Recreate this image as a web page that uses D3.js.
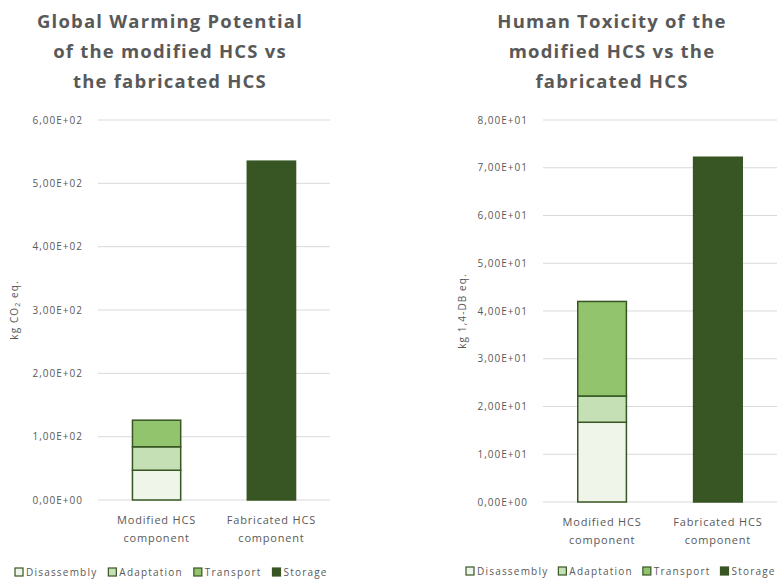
<!DOCTYPE html>
<html><head><meta charset="utf-8">
<script src="https://cdn.jsdelivr.net/npm/d3@7"></script>
<style>
body{margin:0;background:#fff;}
svg text{font-family:"Open Sans",sans-serif;fill:#595959;}
</style></head>
<body><svg id="c" width="777" height="580"></svg>
<script>
const categories = ["Modified HCS component", "Fabricated HCS component"];
const seriesNames = ["Disassembly", "Adaptation", "Transport", "Storage"];
// Global Warming Potential (kg CO2 eq.)
const gwpDisassembly = [47, 0];
const gwpAdaptation = [37, 0];
const gwpTransport = [42, 0];
const gwpStorage = [0, 535];
const gwpTicks = [0, 100, 200, 300, 400, 500, 600];
const gwpTickLabels = ["0,00E+00","1,00E+02","2,00E+02","3,00E+02","4,00E+02","5,00E+02","6,00E+02"];
// Human Toxicity (kg 1,4-DB eq.)
const htDisassembly = [16.7, 0];
const htAdaptation = [5.5, 0];
const htTransport = [19.8, 0];
const htStorage = [0, 72.2];
const htTicks = [0, 10, 20, 30, 40, 50, 60, 70, 80];
const htTickLabels = ["0,00E+00","1,00E+01","2,00E+01","3,00E+01","4,00E+01","5,00E+01","6,00E+01","7,00E+01","8,00E+01"];

const colors = ["#f0f5ea", "#c5e0b4", "#92c46e", "#375623"];
const strokeCol = "#375623";
const svg = d3.select("#c");

function drawChart(o) {
  const g = svg.append("g");
  const y = d3.scaleLinear().domain([0, o.ticks[o.ticks.length-1]]).range([o.bottom, o.top]);
  const x = d3.scaleBand().domain(categories).range([o.left, o.right]).paddingInner(0.58).paddingOuter(0.3);
  // gridlines
  g.selectAll("line.grid").data(o.ticks).enter().append("line")
    .attr("x1", o.left).attr("x2", o.right)
    .attr("y1", d => y(d)).attr("y2", d => y(d))
    .attr("stroke", "#d9d9d9").attr("stroke-width", 1);
  // tick labels
  g.selectAll("text.tick").data(o.ticks).enter().append("text")
    .attr("x", o.left - 15).attr("y", d => y(d) + 3.5)
    .attr("text-anchor", "end").attr("font-size", "10px").attr("letter-spacing", "1px")
    .text((d, i) => o.tickLabels[i]);
  // stacked bars
  const rows = categories.map((c, i) => {
    const r = {cat: c};
    seriesNames.forEach((s, k) => r[s] = o.series[k][i]);
    return r;
  });
  const stacked = d3.stack().keys(seriesNames)(rows);
  stacked.forEach((layer, k) => {
    g.selectAll(null).data(layer.filter(d => d[1] - d[0] > 0)).enter().append("rect")
      .attr("x", d => x(d.data.cat)).attr("width", x.bandwidth())
      .attr("y", d => y(d[1])).attr("height", d => y(d[0]) - y(d[1]))
      .attr("fill", colors[k]).attr("stroke", strokeCol).attr("stroke-width", 1.5);
  });
  // category labels
  categories.forEach(c => {
    const parts = c.split(" ");
    const cx = x(c) + x.bandwidth()/2;
    const t = g.append("text").attr("text-anchor", "middle").attr("font-size", "11px")
      .attr("letter-spacing", "0.8px").attr("y", o.bottom + 24);
    t.append("tspan").attr("x", cx).text(parts.slice(0, 2).join(" "));
    t.append("tspan").attr("x", cx).attr("dy", 18).text(parts.slice(2).join(" "));
  });
  // y axis title
  const yt = g.append("text").attr("font-size", "10px").attr("text-anchor", "middle")
    .attr("letter-spacing", "1.1px")
    .attr("transform", `translate(${o.yTitleX},${(o.top + o.bottom)/2}) rotate(-90)`);
  o.yTitle(yt);
  // title
  const tt = g.append("text").attr("text-anchor", "middle").attr("font-size", "18.5px")
    .attr("font-weight", "bold").attr("letter-spacing", "1.2px");
  o.title.forEach((line, i) => tt.append("tspan").attr("x", o.titleX).attr("y", 28 + i*30).text(line));
  // legend
  let lx = o.legendX;
  seriesNames.forEach((s, k) => {
    g.append("rect").attr("x", lx).attr("y", o.legendY - 4).attr("width", 8).attr("height", 8)
      .attr("fill", colors[k]).attr("stroke", strokeCol).attr("stroke-width", 1.2);
    const t = g.append("text").attr("x", lx + 11).attr("y", o.legendY + 3.5).attr("font-size", "10px")
      .attr("letter-spacing", "1.2px").text(s);
    lx += 11 + t.node().getComputedTextLength() + o.legendGap;
  });
}

drawChart({
  left: 98, right: 330, top: 120, bottom: 500, ticks: gwpTicks, tickLabels: gwpTickLabels,
  series: [gwpDisassembly, gwpAdaptation, gwpTransport, gwpStorage],
  yTitleX: 18,
  yTitle: t => { t.append("tspan").text("kg CO"); t.append("tspan").attr("font-size", "7px").attr("dy", 2).text("2"); t.append("tspan").attr("dy", -2).text(" eq."); },
  title: ["Global Warming Potential", "of the modified HCS vs", "the fabricated HCS"], titleX: 170,
  legendX: 15, legendY: 572, legendGap: 11
});
drawChart({
  left: 543, right: 777, top: 120, bottom: 502, ticks: htTicks, tickLabels: htTickLabels,
  series: [htDisassembly, htAdaptation, htTransport, htStorage],
  yTitleX: 466,
  yTitle: t => t.text("kg 1,4-DB eq."),
  title: ["Human Toxicity of the", "modified HCS vs the", "fabricated HCS"], titleX: 612,
  legendX: 466, legendY: 571, legendGap: 10
});
</script></body></html>
